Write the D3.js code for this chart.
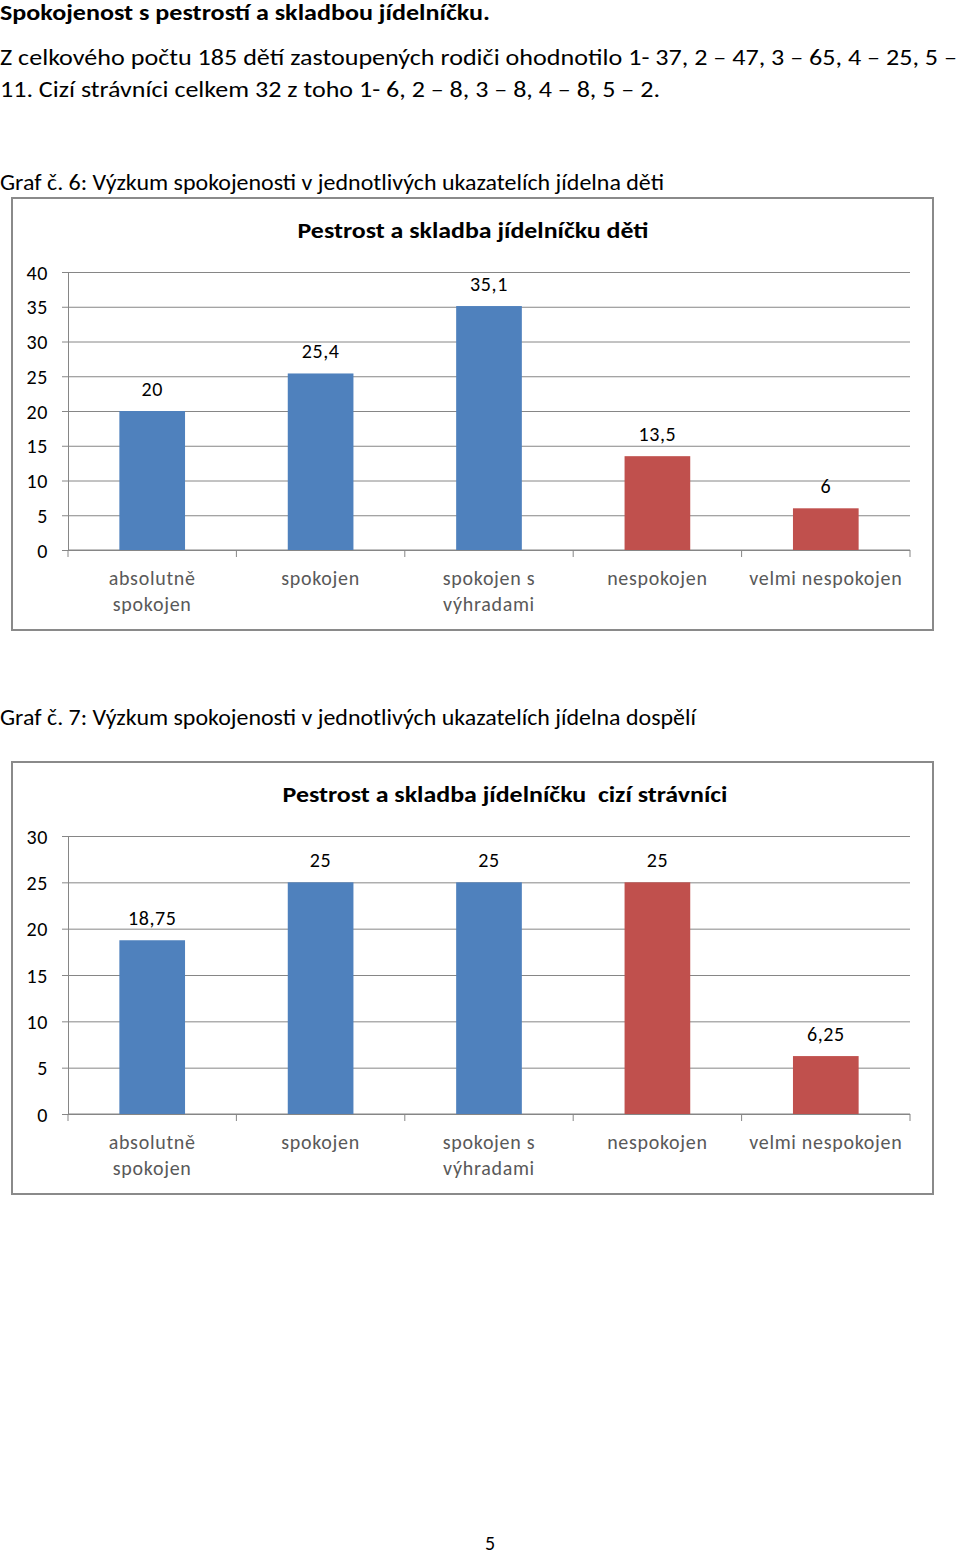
<!DOCTYPE html>
<html><head><meta charset="utf-8">
<script src="https://cdn.jsdelivr.net/npm/d3@7"></script>
<style>
body{margin:0;background:#fff;}
svg{display:block;}
text{font-family:Carlito,Lato,"Open Sans",sans-serif;}
</style></head>
<body>
<svg id="page" width="960" height="1554"></svg>
<script>
const categories = [["absolutně","spokojen"],["spokojen"],["spokojen s","výhradami"],["nespokojen"],["velmi nespokojen"]];
const valuesDeti = [20, 25.4, 35.1, 13.5, 6];
const labelsDeti = ["20","25,4","35,1","13,5","6"];
const valuesDospeli = [18.75, 25, 25, 25, 6.25];
const labelsDospeli = ["18,75","25","25","25","6,25"];
const barColors = ["#4F81BD","#4F81BD","#4F81BD","#C0504D","#C0504D"];
const ticksDeti = [0,5,10,15,20,25,30,35,40];
const ticksDospeli = [0,5,10,15,20,25,30];

const svg = d3.select("#page");

function pageText(x, y, size, txt, len, bold){
  const t = svg.append("text").attr("x",x).attr("y",y).attr("font-size",size).attr("fill","#000").text(txt);
  if(bold) t.attr("font-weight","bold");
  if(len) t.attr("textLength",len).attr("lengthAdjust","spacingAndGlyphs");
  return t;
}
pageText(0, 20, 22, "Spokojenost s pestrostí a skladbou jídelníčku.", 490, true);
pageText(0, 65, 22, "Z celkového počtu 185 dětí zastoupených rodiči ohodnotilo 1- 37, 2 – 47, 3 – 65, 4 – 25, 5 –", 957);
pageText(0, 97, 22, "11. Cizí strávníci celkem 32 z toho 1- 6, 2 – 8, 3 – 8, 4 – 8, 5 – 2.", 660);
pageText(0, 190, 22, "Graf č. 6: Výzkum spokojenosti v jednotlivých ukazatelích jídelna děti", 664);
pageText(0, 725, 22, "Graf č. 7: Výzkum spokojenosti v jednotlivých ukazatelích jídelna dospělí", 696);
svg.append("text").attr("x",490).attr("y",1550).attr("font-size",20).attr("text-anchor","middle").attr("fill","#000").text("5");

function chart(top, title, titleX, titleLen, values, labels, ticks, yMax){
  const g = svg.append("g");
  g.append("rect").attr("x",12).attr("y",top).attr("width",921).attr("height",432)
    .attr("fill","#fff").attr("stroke","#8a8a8a").attr("stroke-width",2);
  g.append("text").attr("x",titleX).attr("y",top+40).attr("text-anchor","middle")
    .style("white-space","pre")
    .attr("font-size",23).attr("font-weight","bold").attr("fill","#000")
    .attr("textLength",titleLen).attr("lengthAdjust","spacingAndGlyphs").text(title);
  const plotTop = top+74, plotBottom = top+352;
  const x = d3.scaleBand().domain(d3.range(values.length)).range([68,910]).paddingInner(0.61).paddingOuter(0.305);
  const xb = d3.scaleBand().domain(d3.range(values.length)).range([68,910]);
  const y = d3.scaleLinear().domain([0,yMax]).range([plotBottom,plotTop]);
  const yAxis = d3.axisLeft(y).tickValues(ticks).tickSize(-(910-68)).tickSizeOuter(0).tickPadding(20).tickFormat(d=>d);
  const ya = g.append("g").attr("transform","translate(68,0)").call(yAxis);
  ya.select(".domain").attr("stroke","#868686");
  ya.selectAll(".tick line").attr("stroke","#868686").attr("x1",-6);
  ya.selectAll(".tick text").attr("font-size",20).attr("fill","#000").attr("letter-spacing","0.6px")
    .attr("font-family","Carlito,Lato,sans-serif").attr("dy","0.35em");
  const xa = g.append("g").attr("transform",`translate(0,${plotBottom})`);
  xa.append("line").attr("x1",68).attr("x2",910).attr("stroke","#868686");
  const bounds = d3.range(values.length+1).map(i=> i<values.length ? xb(i) : 910);
  xa.selectAll("line.t").data(bounds).join("line").attr("class","t")
    .attr("x1",d=>d).attr("x2",d=>d).attr("y1",0).attr("y2",7).attr("stroke","#868686");
  g.selectAll("rect.bar").data(values).join("rect").attr("class","bar")
    .attr("x",(d,i)=>x(i)).attr("width",x.bandwidth())
    .attr("y",d=>y(d)).attr("height",d=>plotBottom-y(d)).attr("fill",(d,i)=>barColors[i]);
  g.selectAll("text.lbl").data(values).join("text").attr("class","lbl")
    .attr("x",(d,i)=>x(i)+x.bandwidth()/2).attr("y",d=>y(d)-15)
    .attr("text-anchor","middle").attr("font-size",20).attr("letter-spacing","0.6px").attr("fill","#000")
    .text((d,i)=>labels[i]);
  categories.forEach((lines,i)=>{
    lines.forEach((ln,j)=>{
      g.append("text").attr("x",xb(i)+xb.bandwidth()/2).attr("y",plotBottom+35+j*26)
        .attr("text-anchor","middle").attr("font-size",20).attr("letter-spacing","0.7px")
        .attr("fill","#595959").text(ln);
    });
  });
}
chart(198, "Pestrost a skladba jídelníčku děti", 473, 351, valuesDeti, labelsDeti, ticksDeti, 40);
chart(762, "Pestrost a skladba jídelníčku  cizí strávníci", 505, 445, valuesDospeli, labelsDospeli, ticksDospeli, 30);
</script>
</body></html>
